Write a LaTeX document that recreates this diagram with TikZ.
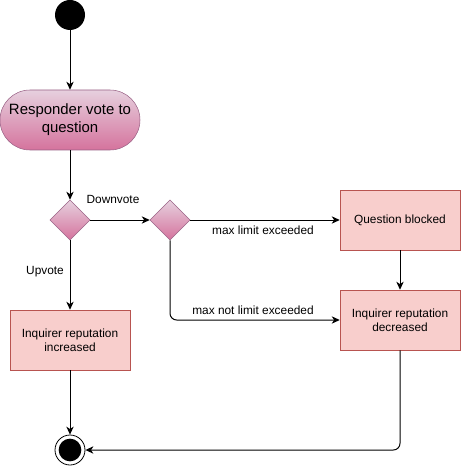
\documentclass[tikz,border=0pt]{standalone}
\usepackage{fontspec}
\setmainfont{Liberation Sans}
\usepackage{tikz}
\usetikzlibrary{shapes.geometric,arrows.meta}
\definecolor{pinktop}{HTML}{E6D0DE}
\definecolor{pinkbot}{HTML}{D5739D}
\definecolor{pinkline}{HTML}{996185}
\definecolor{redfill}{HTML}{F8CECC}
\definecolor{redline}{HTML}{B85450}

\begin{document}
\begin{tikzpicture}[x=0.75pt,y=0.75pt,yscale=-1,xscale=1,
  activity/.style={rectangle,draw=redline,fill=redfill,minimum width=90pt,minimum height=45pt,inner sep=1pt,align=center,font=\fontsize{8.9}{10.5}\selectfont},
  decision/.style={diamond,draw=pinkline,top color=pinktop,bottom color=pinkbot,minimum size=30pt,inner sep=0pt},
  flow/.style={-{Stealth[length=6pt,width=5.5pt,inset=1.8pt]},line width=0.75pt},
  lbl/.style={inner sep=0.75pt,font=\fontsize{8.9}{10.5}\selectfont}]

\useasboundingbox (0,0) rectangle (461,466);

%Start node
\node [circle,fill=black,minimum size=22.5pt,inner sep=0pt] (start) at (70,15) {};
%Responder vote
\node [rectangle,rounded corners=22.5pt,draw=pinkline,top color=pinktop,bottom color=pinkbot,minimum width=105pt,minimum height=45pt,align=center,inner sep=1pt,font=\fontsize{11.2}{13.5}\selectfont] (vote) at (70,120) {Responder vote to\\question};
%Decisions
\node [decision] (dvote) at (70,220) {};
\node [decision] (dlimit) at (170,220) {};
%Activities
\node [activity] (blocked) at (400,220) {Question blocked};
\node [activity] (decreased) at (400,320) {Inquirer reputation\\decreased};
\node [activity] (increased) at (70,340) {Inquirer reputation\\increased};
%End node
\node [circle,draw,line width=0.6pt,minimum size=22.5pt,inner sep=0pt] (final) at (70,450) {};
\node [circle,fill=black,minimum size=17pt,inner sep=0pt] (finaldot) at (70,450) {};

%Straight Lines
\draw [flow] (start) -- (vote);
\draw [flow] (vote) -- (dvote);
\draw [flow] (dvote) -- (dlimit);
\draw [flow] (dvote) -- (increased);
\draw [flow] (dlimit) -- (blocked);
\draw [flow] (blocked) -- (decreased);
\draw [flow] (increased) -- (final);
%Elbow Lines
\draw [flow,rounded corners=5pt] (dlimit.south) |- (decreased.west);
\draw [flow,rounded corners=5pt] (decreased.south) |- (final.east);

% Text Node
\node [lbl] (ldown) at (113,199) {Downvote};
% Text Node
\node [lbl] (lup) at (45,272) {Upvote};
% Text Node
\node [lbl] (lmax) at (263,230) {max limit exceeded};
% Text Node
\node [lbl] (lnot) at (253,310) {max not limit exceeded};

\end{tikzpicture}
\end{document}
